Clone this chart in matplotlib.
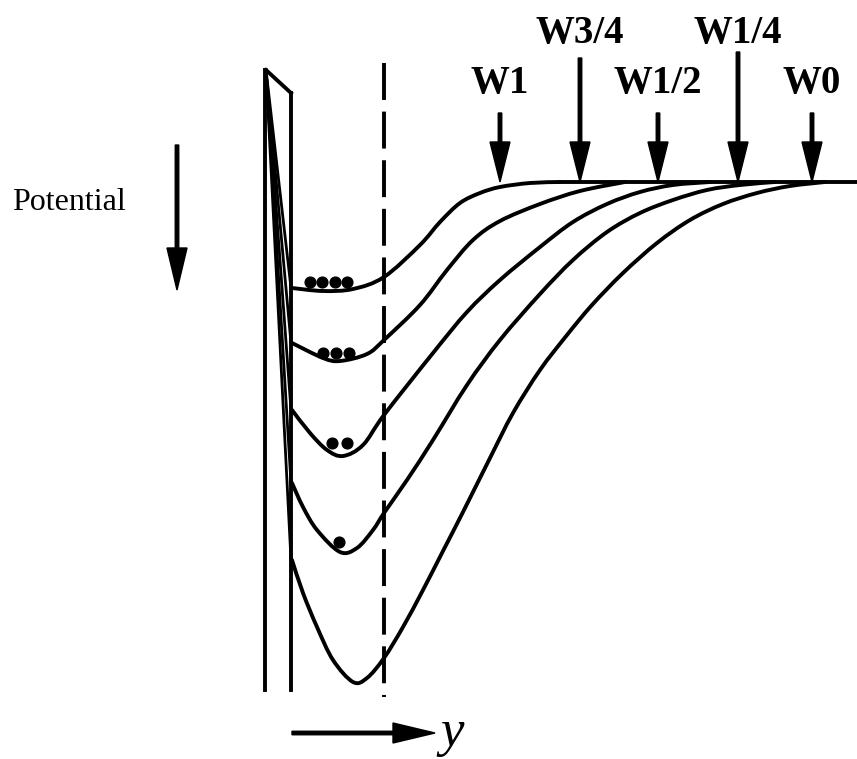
import numpy as np
import matplotlib.pyplot as plt
from matplotlib.path import Path
from matplotlib.patches import PathPatch

# Potential wells for decreasing gate voltage, drawn in a pixel-like frame
# (x to the right, y downward).

W_LABELS = ["W1", "W3/4", "W1/2", "W1/4", "W0"]
ARROW_X = [500, 580, 658, 738, 812]
ARROW_TOP = [113, 58, 113, 52, 113]
LABEL_Y = [83, 33, 83, 33, 83]
FLAT_LEVEL = 182

CURVE_X = [
    [292, 323, 353, 384, 420, 440, 460, 480, 500, 530, 560],
    [292, 323, 340, 367, 384, 420, 447, 473, 500, 540, 580, 625],
    [292, 310, 327, 343, 363, 384, 433, 467, 500, 540, 573, 607, 640, 673, 710],
    [292, 303, 317, 340, 357, 373, 384, 407, 433, 467, 500, 540, 573, 607, 640, 673, 707, 740, 775],
    [292, 303, 317, 333, 353, 367, 384, 403, 423, 443, 463, 490, 513, 540, 567, 592, 623, 657, 690,
     723, 757, 790, 825],
]
CURVE_Y = [
    [288, 291, 289, 277, 245, 222, 203, 193, 187, 183, 182],
    [343, 358, 361, 354, 340, 305, 270, 240, 221, 204, 191, 182],
    [410, 433, 450, 456, 445, 415, 353, 312, 280, 247, 222, 204, 192, 185, 182],
    [483, 507, 530, 552, 548, 530, 513, 480, 440, 385, 340, 294, 260, 232, 213, 200, 190, 185, 182],
    [560, 593, 627, 660, 682, 678, 658, 627, 590, 551, 512, 458, 413, 370, 335, 305, 273, 243, 220,
     204, 193, 186, 182],
]

# electrons sitting in the wells
ELECTRON_X = [
    [310, 322, 335, 347],
    [323, 336, 349],
    [332, 347],
    [339],
    [],
]
ELECTRON_Y = [282, 353, 443, 542, 0]

BARRIER_LEFT = 265
BARRIER_RIGHT = 291
BARRIER_TOP = (266, 70)
BARRIER_RIGHT_TOP = 93
BARRIER_BOTTOM = 690
GATE_EDGE_X = 384
GATE_EDGE_SPAN = (63, 697)


def smooth_path(xs, ys):
    # Catmull-Rom through the points, as cubic Bezier segments
    pts = np.column_stack([xs, ys]).astype(float)
    ext = np.vstack([pts[0], pts, pts[-1]])
    verts = [pts[0]]
    codes = [Path.MOVETO]
    for i in range(1, len(ext) - 2):
        p0, p1, p2, p3 = ext[i - 1], ext[i], ext[i + 1], ext[i + 2]
        c1 = p1 + (p2 - p0) / 6.0
        c2 = p2 - (p3 - p1) / 6.0
        verts += [c1, c2, p2]
        codes += [Path.CURVE4] * 3
    return Path(verts, codes)


fig = plt.figure(figsize=(8.57, 7.59), dpi=100)
ax = fig.add_axes([0, 0, 1, 1])
ax.set_xlim(0, 857)
ax.set_ylim(759, 0)
ax.axis("off")

lw = 2.8

# barrier
ax.plot([BARRIER_LEFT, BARRIER_LEFT], [BARRIER_TOP[1], BARRIER_BOTTOM], color="black", lw=lw)
ax.plot([BARRIER_RIGHT, BARRIER_RIGHT], [BARRIER_RIGHT_TOP, BARRIER_BOTTOM], color="black", lw=lw)
ax.plot([BARRIER_TOP[0], BARRIER_RIGHT], [BARRIER_TOP[1], BARRIER_RIGHT_TOP], color="black", lw=lw)
for ys in CURVE_Y:
    ax.plot([BARRIER_TOP[0], BARRIER_RIGHT], [BARRIER_TOP[1], ys[0]], color="black", lw=2.0)

# gate edge
ax.plot([GATE_EDGE_X, GATE_EDGE_X], GATE_EDGE_SPAN, color="black", lw=2.8,
        dashes=(9.5, 3.0))

# wells
for xs, ys in zip(CURVE_X, CURVE_Y):
    ax.add_patch(PathPatch(smooth_path(xs, ys), fill=False, lw=lw,
                           edgecolor="black", capstyle="round"))
ax.plot([CURVE_X[0][-1], 857], [FLAT_LEVEL, FLAT_LEVEL], color="black", lw=lw)

for ex, ey in zip(ELECTRON_X, ELECTRON_Y):
    if ex:
        ax.scatter(ex, [ey] * len(ex), s=60, color="black", zorder=3)

# gate voltage arrows
for lab, x, top, ly in zip(W_LABELS, ARROW_X, ARROW_TOP, LABEL_Y):
    ax.arrow(x, top, 0, FLAT_LEVEL - top, width=3.5, head_width=20, head_length=40,
             length_includes_head=True, color="black")
    ax.text(x, ly, lab, ha="center", va="center", fontsize=28, fontweight="bold",
            family="Liberation Serif")

# potential direction
ax.arrow(177, 145, 0, 145, width=3.5, head_width=20, head_length=42,
         length_includes_head=True, color="black")
ax.text(12, 202, "Potential", ha="left", va="center", fontsize=23,
        family="Liberation Serif")

# y direction
ax.arrow(292, 733, 143, 0, width=3.5, head_width=20, head_length=42,
         length_includes_head=True, color="black")
ax.text(440, 733, "y", ha="left", va="center", fontsize=38, style="italic",
        family="Liberation Serif")

fig.savefig("out.png", dpi=100)
